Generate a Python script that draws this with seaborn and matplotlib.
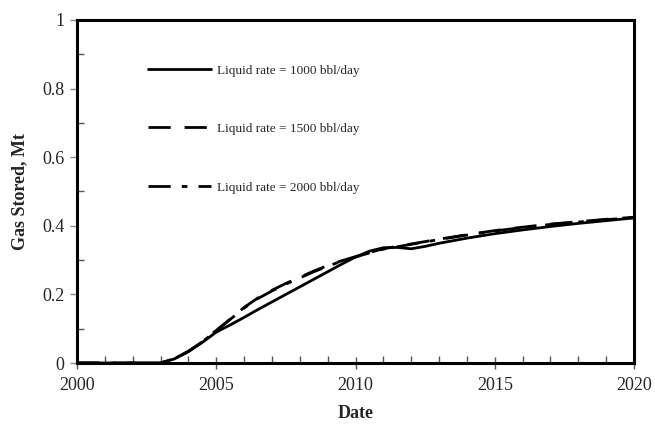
import matplotlib
matplotlib.use("Agg")
import matplotlib.pyplot as plt
from matplotlib.ticker import MultipleLocator
import seaborn as sns
import pandas as pd

years = [2000, 2001, 2002, 2003, 2003.5, 2004, 2004.5, 2005, 2005.5, 2006,
         2006.5, 2007, 2007.5, 2008, 2008.5, 2009, 2009.5, 2010, 2010.5,
         2011, 2011.5, 2012, 2012.5, 2013, 2014, 2015, 2016, 2017, 2018,
         2019, 2020]

rate_1000 = [0, 0, 0, 0, 0.012, 0.033, 0.06, 0.09, 0.111, 0.133,
             0.156, 0.178, 0.2, 0.222, 0.244, 0.266, 0.288, 0.309, 0.326,
             0.336, 0.337, 0.333, 0.34, 0.349, 0.364, 0.377, 0.388, 0.398,
             0.407, 0.415, 0.423]
rate_1500 = [0, 0, 0, 0, 0.013, 0.034, 0.062, 0.095, 0.128, 0.162,
             0.19, 0.212, 0.232, 0.25, 0.268, 0.284, 0.298, 0.31, 0.322,
             0.333, 0.34, 0.347, 0.354, 0.361, 0.374, 0.386, 0.396, 0.405,
             0.412, 0.419, 0.425]
rate_2000 = [0, 0, 0, 0, 0.013, 0.034, 0.062, 0.094, 0.127, 0.16,
             0.188, 0.21, 0.23, 0.248, 0.266, 0.282, 0.297, 0.309, 0.321,
             0.332, 0.339, 0.346, 0.353, 0.36, 0.373, 0.385, 0.395, 0.404,
             0.411, 0.418, 0.424]

labels = ["Liquid rate = 1000 bbl/day",
          "Liquid rate = 1500 bbl/day",
          "Liquid rate = 2000 bbl/day"]

frames = []
for lab, vals in zip(labels, [rate_1000, rate_1500, rate_2000]):
    frames.append(pd.DataFrame({"Date": years, "Gas": vals, "Case": lab}))
df = pd.concat(frames, ignore_index=True)

sns.set_style("ticks")
plt.rcParams["font.family"] = ["Liberation Serif", "DejaVu Serif"]

fig = plt.figure(figsize=(6.55, 4.30), dpi=100)
ax = fig.add_axes([77 / 655, 1 - 363 / 430, (634 - 77) / 655, (363 - 20) / 430])

dash_styles = {labels[0]: "", labels[1]: (8, 5), labels[2]: (8, 4, 2, 4)}
sns.lineplot(data=df, x="Date", y="Gas", hue="Case", style="Case",
             palette=["black"] * 3, dashes=dash_styles, linewidth=2.0,
             ax=ax, legend=True)

ax.set_xlim(2000, 2020)
ax.set_ylim(0, 1)
ax.xaxis.set_major_locator(MultipleLocator(5))
ax.xaxis.set_minor_locator(MultipleLocator(1))
ax.yaxis.set_minor_locator(MultipleLocator(0.1))
ax.set_yticks([0, 0.2, 0.4, 0.6, 0.8, 1.0])
ax.set_yticklabels(["0", "0.2", "0.4", "0.6", "0.8", "1"])

ax.tick_params(axis="x", which="major", direction="inout", length=8,
               width=1, color="#555555", labelsize=13, pad=6)
ax.tick_params(axis="x", which="minor", direction="in", length=5,
               width=1, color="#555555")
ax.tick_params(axis="y", which="major", direction="out", length=5,
               width=1, color="#888888", labelsize=13, pad=4)
ax.tick_params(axis="y", which="minor", direction="in", length=5,
               width=1, color="#555555")

for sp in ax.spines.values():
    sp.set_visible(True)
    sp.set_linewidth(2.2)
    sp.set_color("black")

ax.set_xlabel("Date", fontsize=13, fontweight="bold", labelpad=8)
ax.set_ylabel("Gas Stored, Mt", fontsize=13, fontweight="bold", labelpad=10)

leg = ax.legend(loc="upper left", bbox_to_anchor=(0.106, 0.905), frameon=False,
                fontsize=9.5, handlelength=4.75, handletextpad=0.5,
                labelspacing=3.5, title=None)
for h in leg.get_lines():
    h.set_linewidth(2.0)

fig.savefig("out.png", dpi=100)
